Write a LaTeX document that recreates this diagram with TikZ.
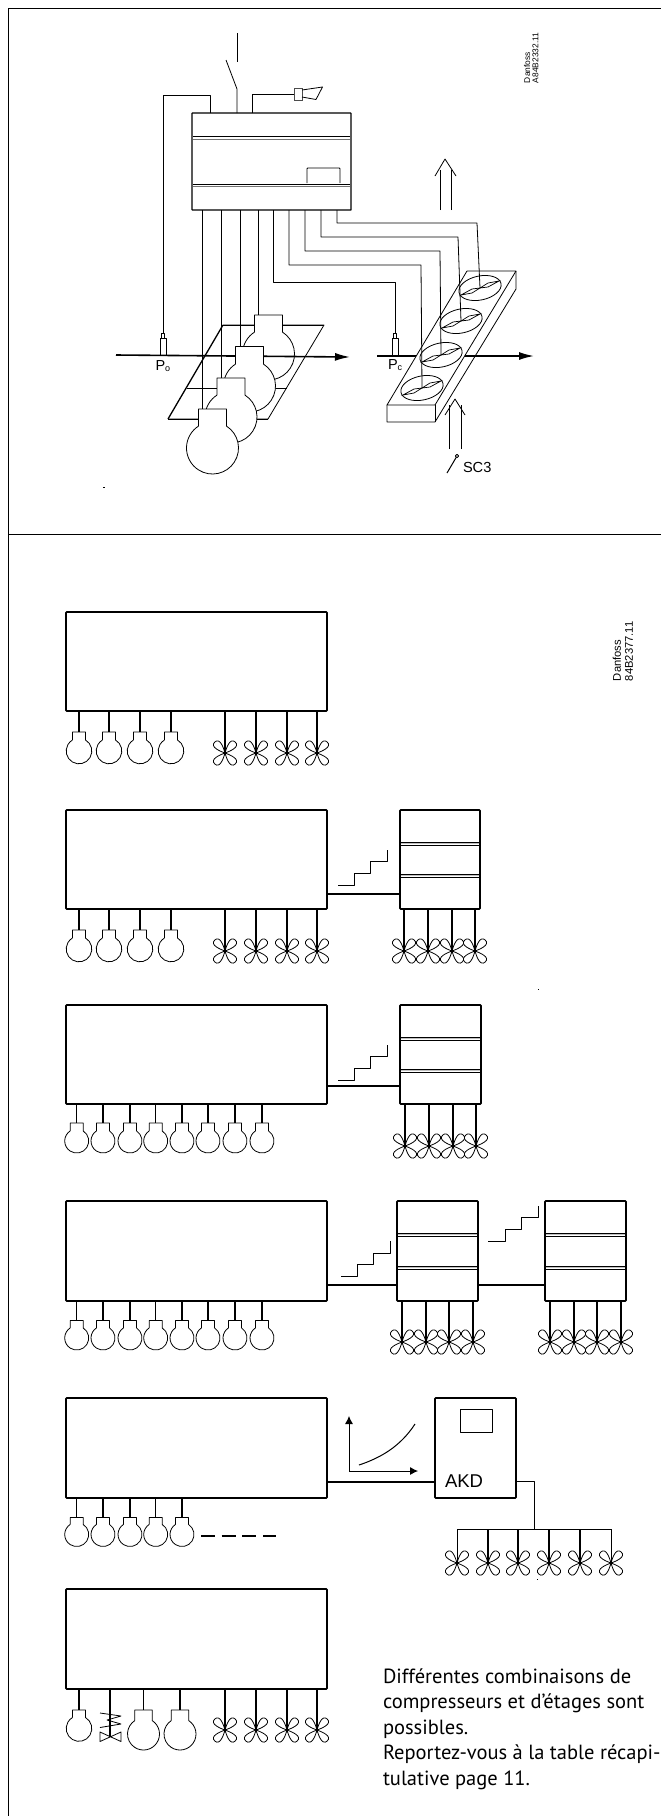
\documentclass[tikz,border=0pt]{standalone}
\usepackage{fontspec}
\setmainfont{PT Sans}
\newfontfamily\labelfont{Liberation Sans}
\usetikzlibrary{arrows.meta,calc}
\tikzset{
  thinline/.style={line width=0.8pt,line join=round},
  midline/.style={line width=1pt,line join=round},
  boldline/.style={line width=1.6pt,line join=round},
  wire/.style={line width=1.4pt},
  mainbox/.style={draw,line width=1.6pt,minimum width=261pt,minimum height=99pt,inner sep=0pt,outer sep=0pt,rounded corners=0.8pt,anchor=north west},
  unitbox/.style={draw,line width=1.6pt,minimum width=80pt,minimum height=99pt,inner sep=0pt,outer sep=0pt,rounded corners=0.8pt,anchor=north west},
  lab/.style={font=\labelfont,inner sep=0pt,outer sep=0pt,text=black},
  stripe/.style={line width=0.65pt},
}
% bulb: name, cx, neck top, cy, radius, neck half width
\newcommand\bulbat[6]{%
  \coordinate (#1) at (#2,#3);
  \pgfmathsetmacro\ba{acos(#6/#5)}%
  \pgfmathsetmacro\bn{#4-#5*sin(\ba)}%
  \pgfmathsetmacro\be{-180-\ba}%
  \filldraw[thinline,fill=white] ({#2-#6},\bn) -- ({#2-#6},#3) -- ({#2+#6},#3) -- ({#2+#6},\bn)
     arc[start angle=\ba,end angle=\be,radius=#5pt] ;
}
% fan: name, x, y
\newcommand\fanat[3]{%
  \coordinate (#1) at (#2,#3);
  \foreach \aa in {47,133,227,313}{
    \draw[thinline,shift={(#1)},rotate=\aa] (0,0) .. controls (5,-2.6) and (15,-7) .. (15,0) .. controls (15,7) and (5,2.6) .. (0,0);
  }
}
% stripes in a unit: x1,x2,y
\newcommand\stripes[3]{%
  \draw[stripe] (#1,#3) -- (#2,#3);
  \draw[stripe,black!25,line width=1.2pt] (#1,{#3+1.6}) -- (#2,{#3+1.6});
  \draw[stripe] (#1,{#3+3}) -- (#2,{#3+3});
}
\begin{document}
\begin{tikzpicture}[x=1pt,y=-1pt]
\useasboundingbox (0,0) rectangle (661,1816);
\fill[white] (0,0) rectangle (661,1816);
% frame
\coordinate (fa) at (8,8);\coordinate (fb) at (661,8);
\coordinate (fc) at (8,534);\coordinate (fd) at (661,534);
\coordinate (fe) at (8,1816);
\draw[line width=0.9pt] (fb) -- (fa) -- (fe);
\draw[line width=0.9pt] (fc) -- (fd);

% ---------- top panel ----------
% evaporator plate
\coordinate (pa) at (168,419);\coordinate (pb) at (223,325);\coordinate (pc) at (324,325);\coordinate (pd) at (268,419);
\coordinate (pe) at (187,388);\coordinate (pf) at (287,388);
\draw[thinline] (pb) -- (pc) -- (pd) -- (pa);
\draw[line width=1.3pt] (pa) -- (pb);
\draw[thinline] (pe) -- (pf);
\draw[midline] (pa) -- (pd);\draw[midline] (pb) -- (pc);
% compressors back
\coordinate (flowa) at (116,355);\coordinate (flowb) at (350,357);
\bulbat{c1}{268.5}{315}{354}{26}{14}
\draw[line width=1.6pt,-{Latex[length=15pt,width=8pt]}] (flowa) -- (flowb);
% controller
\node[draw,line width=1.4pt,minimum width=159pt,minimum height=97pt,inner sep=0pt,outer sep=0pt,anchor=north west,rounded corners=0.5pt] (ctl) at (192,113) {};
\draw[stripe] (193,136.5) -- (350,136.5);\draw[stripe,black!55] (193,139) -- (350,139);
\draw[stripe] (193,184) -- (350,184);\draw[stripe,black!55] (193,186.5) -- (350,186.5);
\draw[thinline,rounded corners=0.8pt] (307,183) -- (307,168) -- (340,168) -- (340,183);
% switch
\coordinate (swa) at (237,33);\coordinate (swb) at (237,62);
\coordinate (swc) at (226,60);\coordinate (swd) at (237,89);
\draw[thinline] (swa) -- (swb);
\draw[thinline] (swc) -- (swd) -- (swd |- ctl.north);
% horn
\coordinate (hw) at (252,113);
\node[draw,line width=0.7pt,black!70,minimum width=8pt,minimum height=12pt,inner sep=0pt,outer sep=0pt] (hornb) at (298,94) {};
\draw[thinline] (hw) -- (252,94) -- (hornb.west);
\draw[thinline] (302,90) -- (322.5,87) -- (316,99.5) -- (302,97);
% sensors
\coordinate (po) at (163,333);
\coordinate (pco) at (395,333);
\draw[thinline] (210,113) -- (210,95) -- (163,95) -- (po);
\draw[thinline] (161.5,338) -- (161.5,333) -- (164.5,333) -- (164.5,338);
\node[draw,thinline,minimum width=6pt,minimum height=17pt,inner sep=0pt,outer sep=0pt,anchor=north] (pos) at (163,338) {};
\node[lab,font=\labelfont\fontsize{14.5}{15}\selectfont,anchor=base west] (polab) at (155.5,370) {P\raisebox{-1.5pt}{\fontsize{9}{9}\selectfont o}};
\node[lab,font=\labelfont\fontsize{14.5}{15}\selectfont,anchor=base west] (pclab) at (388,369) {P\raisebox{-1.5pt}{\fontsize{9}{9}\selectfont c}};
% compressor wires
\coordinate (w1) at (202,210);\coordinate (w2) at (221,210);\coordinate (w3) at (240,210);\coordinate (w4) at (258,210);
\draw[thinline] (w4) -- (258,315);
\draw[thinline] (w3) -- (240,346.5);
\draw[thinline] (w2) -- (221,378);
\draw[thinline] (w1) -- (202,409);
\bulbat{c2}{249.5}{346.5}{386}{26}{14}
\bulbat{c3}{231}{378}{417}{26}{14}
\bulbat{c4}{212.5}{409}{448}{26}{14}
% condenser
\coordinate (ca) at (467,271);\coordinate (cb) at (516,271);\coordinate (cc) at (435,405);\coordinate (cd) at (387,405);
\coordinate (ce) at (387,422);\coordinate (cf) at (435,422);\coordinate (cg) at (516,289);
\draw[thinline] (cb) -- (cg) -- (cf) -- (ce) -- (cd);
\draw[line width=1.6pt,-{Latex[length=15pt,width=8pt]}] (377,356) -- (534,356);
\filldraw[thinline,fill=white] (ca) -- (cb) -- (cc) -- (cd) -- cycle;
\draw[thinline] (cc) -- (cf);
\foreach \n/\cx/\cy in {f1/480/288,f2/461/321,f3/441/355,f4/422/388}{
  \coordinate (\n) at (\cx,\cy);
  \draw[thinline,rotate around={12:(\n)}] (\n) ellipse [x radius=21.5,y radius=12];
  \draw[line width=0.7pt,shift={(\n)}] (-19,7) -- (-8,1) -- (0,0) -- (-8,5) -- cycle;
  \draw[line width=0.7pt,shift={(\n)}] (19,-7) -- (8,-1) -- (0,0) -- (8,-5) -- cycle;
}
\draw[thinline] (273,210) -- (273,282) -- (395,282) -- (pco);
\draw[thinline] (393.5,338) -- (393.5,333) -- (396.5,333) -- (396.5,338);
\node[draw,thinline,minimum width=6pt,minimum height=17pt,inner sep=0pt,outer sep=0pt,anchor=north] (pcs) at (395,338) {};
\draw[thinline] (289,210) -- (289,265) -- (421,265) -- (f4);
\draw[thinline] (305,210) -- (305,251) -- (440,251) -- (f3);
\draw[thinline] (321,210) -- (321,237) -- (458,237) -- (f2);
\draw[thinline] (337,210) -- (337,223) -- (477,223) -- (f1);
% air arrows
\draw[thinline] (440,210) -- (440,170);\draw[thinline] (451,210) -- (451,170);
\draw[thinline] (435,176) -- (445,159) -- (456,176);
\draw[thinline] (449,449) -- (449,405);\draw[thinline] (461,449) -- (461,405);
\draw[thinline] (445,415) -- (455,399) -- (465,415);
% SC3
\node[draw,thinline,circle,minimum size=3.4pt,inner sep=0pt,outer sep=0pt] (sc) at (457,456) {};
\coordinate (sca) at (447,473);
\draw[line width=1pt] (sca) -- (sc);
\node[lab,font=\labelfont\fontsize{14.6}{15}\selectfont,anchor=base west] (sclab) at (463,472) {SC3};
% code
\node[lab,font=\labelfont\fontsize{8.4}{8.4}\selectfont,rotate=90,anchor=south west,align=left] (codea) at (538.5,83) {Danfoss\\A84B2332.11};
\fill (103,487) rectangle (105,487.8);

% ---------- lower panel ----------
% row 1
\node[mainbox] (b1) at (66,612) {};
\foreach \n/\x in {r1c1/79,r1c2/109,r1c3/140,r1c4/171}{
  \bulbat{\n}{\x}{732}{751}{12.8}{6.5}
  \draw[wire] (\n |- b1.south) -- (\n);
}
\foreach \n/\x in {r1f1/225,r1f2/256,r1f3/287,r1f4/317}{
  \fanat{\n}{\x}{753}
  \draw[wire] (\n |- b1.south) -- (\n);
}
\node[lab,font=\labelfont\fontsize{11.2}{12}\selectfont,rotate=90,anchor=south west,align=left] (codeb) at (633,681) {Danfoss\\84B2377.11};
% row 2
\node[mainbox] (b2) at (66,810) {};
\node[unitbox] (u2) at (400,810) {};
\stripes{401}{479}{842}
\stripes{401}{479}{874}
\coordinate (j2) at (327,894);
\draw[wire] (j2) -- (j2 -| u2.west);
\draw[line width=1pt,line join=round] (338,885) -- (354,885) -- (354,873) -- (370.5,873) -- (370.5,861) -- (387,861) -- (387,849.5);
\foreach \n/\x in {r2c1/79,r2c2/109,r2c3/140,r2c4/171}{
  \bulbat{\n}{\x}{930}{949}{12.8}{6.5}
  \draw[wire] (\n |- b2.south) -- (\n);
}
\foreach \n/\x in {r2f1/225,r2f2/256,r2f3/287,r2f4/317}{
  \fanat{\n}{\x}{951}
  \draw[wire] (\n |- b2.south) -- (\n);
}
\foreach \n/\x in {r2g1/404,r2g2/428,r2g3/452,r2g4/475}{
  \fanat{\n}{\x}{951}
  \draw[wire] (\n |- u2.south) -- (\n);
}
% row 3
\node[mainbox] (b3) at (66,1005) {};
\node[unitbox,minimum width=81pt] (u3) at (400,1005) {};
\stripes{401}{480}{1037}
\stripes{401}{480}{1069}
\coordinate (j3) at (327,1086);
\draw[wire] (j3) -- (j3 -| u3.west);
\draw[line width=1pt,line join=round] (338,1080) -- (354,1080) -- (354,1068) -- (370.5,1068) -- (370.5,1056) -- (387,1056) -- (387,1044.5);
\foreach \n/\x in {r3c1/76.7,r3c2/103,r3c3/130,r3c4/155.7,r3c5/182,r3c6/208,r3c7/235,r3c8/262}{
  \bulbat{\n}{\x}{1123}{1141}{12}{6.5}
  \draw[wire] (\n |- b3.south) -- (\n);
}
\foreach \n/\x in {r3g1/405,r3g2/429,r3g3/453,r3g4/476}{
  \fanat{\n}{\x}{1146}
  \draw[wire] (\n |- u3.south) -- (\n);
}
% row 4
\node[mainbox,minimum height=100pt] (b4) at (66,1201) {};
\node[unitbox,minimum width=81pt,minimum height=100pt] (u4) at (397,1201) {};
\node[unitbox,minimum width=81pt,minimum height=100pt] (v4) at (545,1201) {};
\stripes{398}{477}{1233}
\stripes{398}{477}{1266}
\stripes{546}{625}{1233}
\stripes{546}{625}{1266}
\coordinate (j4) at (327,1285);
\draw[wire] (j4) -- (j4 -| u4.west);
\coordinate (k4) at (478,1285);
\draw[wire] (k4) -- (k4 -| v4.west);
\draw[line width=1pt,line join=round] (341,1276) -- (357.5,1276) -- (357.5,1264.5) -- (373.5,1264.5) -- (373.5,1253) -- (390,1253) -- (390,1241);
\draw[line width=1pt,line join=round] (488,1241) -- (505,1241) -- (505,1229) -- (521,1229) -- (521,1217.5) -- (538,1217.5) -- (538,1206);
\foreach \n/\x in {r4c1/76.7,r4c2/103,r4c3/130,r4c4/155.7,r4c5/182,r4c6/208,r4c7/235,r4c8/262}{
  \bulbat{\n}{\x}{1320.5}{1338}{12}{6.5}
  \draw[wire] (\n |- b4.south) -- (\n);
}
\foreach \n/\x in {r4g1/402,r4g2/426,r4g3/449,r4g4/473}{
  \fanat{\n}{\x}{1342}
  \draw[wire] (\n |- u4.south) -- (\n);
}
\foreach \n/\x in {r4h1/550,r4h2/574,r4h3/597,r4h4/621}{
  \fanat{\n}{\x}{1342}
  \draw[wire] (\n |- v4.south) -- (\n);
}
% row 5
\node[mainbox,minimum height=100pt] (b5) at (66,1398) {};
\node[unitbox,minimum width=81pt,minimum height=100pt] (akd) at (435,1398) {};
\node[draw,thinline,minimum width=32pt,minimum height=23pt,inner sep=0pt,outer sep=0pt,anchor=north west] (akdd) at (460,1409) {};
\node[lab,font=\labelfont\fontsize{18.5}{20}\selectfont,anchor=base west] (akdl) at (445,1487) {AKD};
\coordinate (j5) at (327,1482);
\draw[wire] (j5) -- (j5 -| akd.west);
\coordinate (g0) at (349,1471);\coordinate (gy) at (349,1416);\coordinate (gx) at (418,1471);
\draw[thinline,-{Latex[length=8pt,width=8pt]}] (g0) -- (gy);
\draw[thinline,-{Latex[length=8pt,width=8pt]}] (g0) -- (gx);
\draw[line width=1pt] (359,1465) .. controls (380,1458) and (400,1447) .. (415,1424);
\coordinate (a5) at (516,1481);\coordinate (bus) at (534,1529);
\draw[thinline] (a5) -- (534,1481) -- (bus);
\foreach \n/\x in {r5c1/76.7,r5c2/103,r5c3/130,r5c4/155.7,r5c5/182}{
  \bulbat{\n}{\x}{1517.5}{1534.5}{12}{6.5}
  \draw[wire] (\n |- b5.south) -- (\n);
}
\coordinate (da) at (201,1536);\coordinate (db) at (276,1536);
\draw[line width=1.5pt,dash pattern=on 14pt off 6.7pt] (da) -- (db);
\foreach \n/\x/\w in {r5f1/457/0.8,r5f2/488/1.4,r5f3/518/1.4,r5f4/549/1.4,r5f5/580/1.4,r5f6/611/0.8}{
  \fanat{\n}{\x}{1563}
  \draw[line width=\w pt] (\n |- bus) -- (\n);
}
\draw[line width=0.9pt] (r5f1 |- bus) -- (r5f6 |- bus);
\fill (536.5,1578.5) rectangle (537.7,1579.5);
\fill (537.5,988.5) rectangle (538.7,989.5);
% row 6
\node[mainbox,minimum height=100pt] (b6) at (66,1589) {};
\bulbat{r6c1}{79}{1710}{1728.5}{12.8}{6.5}
\draw[wire] (r6c1 |- b6.south) -- (r6c1);
\coordinate (val) at (110,1736.5);
\draw[wire] (val |- b6.south) -- (val);
\draw[thinline] (100,1713) -- (121,1716) -- (107,1720) -- (121,1724) -- (100,1727.5);
\draw[thinline] (100,1732) -- (121,1741.5) -- (121,1732) -- (100,1741.5) -- cycle;
\bulbat{r6c2}{143.5}{1710}{1734}{16}{8.8}
\draw[wire] (r6c2 |- b6.south) -- (r6c2);
\bulbat{r6c3}{180}{1710}{1734}{16}{8.8}
\draw[wire] (r6c3 |- b6.south) -- (r6c3);
\foreach \n/\x in {r6f1/225,r6f2/256,r6f3/287,r6f4/317}{
  \fanat{\n}{\x}{1730}
  \draw[wire] (\n |- b6.south) -- (\n);
}
\node[inner sep=0pt,outer sep=0pt,anchor=base west,align=left,font=\fontsize{20.5}{25.5}\selectfont] (note) at (383,1785) {Différentes combinaisons de\\compresseurs et d’étages sont\\possibles.\\Reportez-vous à la table récapi-\\tulative page 11.};
\end{tikzpicture}
\end{document}
